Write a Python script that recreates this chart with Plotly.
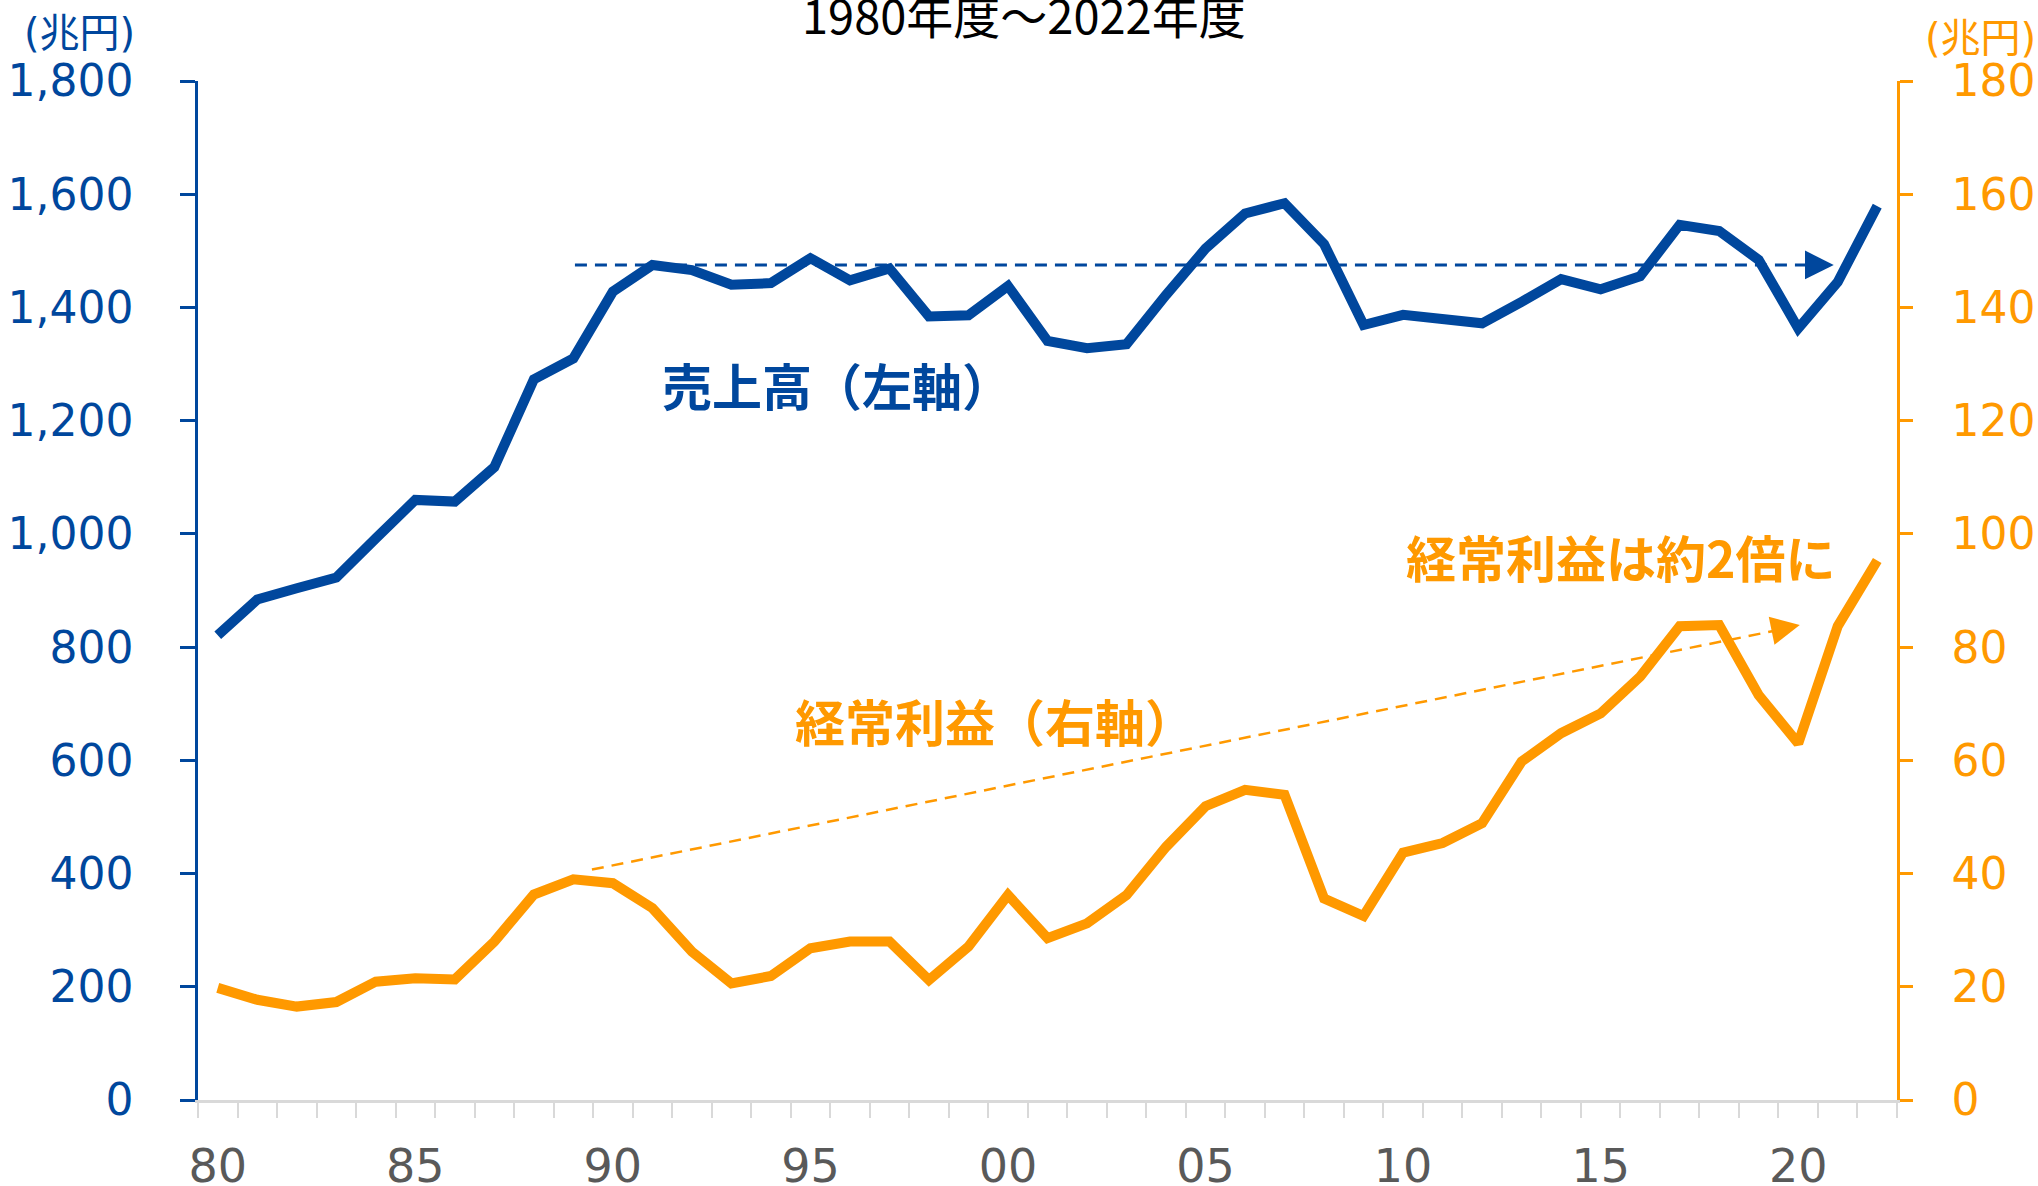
import plotly.graph_objects as go

# ---- data ----
years = [1980, 1981, 1982, 1983, 1984, 1985, 1986, 1987, 1988, 1989,
         1990, 1991, 1992, 1993, 1994, 1995, 1996, 1997, 1998, 1999,
         2000, 2001, 2002, 2003, 2004, 2005, 2006, 2007, 2008, 2009,
         2010, 2011, 2012, 2013, 2014, 2015, 2016, 2017, 2018, 2019,
         2020, 2021, 2022]
sales = [821, 884, 904, 923, 992, 1060, 1057, 1118, 1273, 1310,
         1428, 1475, 1466, 1440, 1443, 1487, 1448, 1469, 1384, 1386,
         1438, 1341, 1328, 1335, 1422, 1504, 1566, 1584, 1512, 1369,
         1387, 1381, 1372, 1410, 1450, 1432, 1455, 1546, 1535, 1484,
         1363, 1445, 1579]
profit = [19.8, 17.7, 16.5, 17.3, 20.9, 21.5, 21.3, 28.0, 36.3, 39.0,
          38.3, 33.9, 26.2, 20.6, 21.9, 26.8, 28.0, 28.0, 21.2, 27.1,
          36.2, 28.6, 31.2, 36.2, 44.7, 51.9, 54.8, 53.9, 35.6, 32.5,
          43.7, 45.4, 48.9, 59.8, 64.8, 68.3, 74.8, 83.7, 83.9, 71.5,
          63.0, 83.7, 95.3]
xtick_vals = [1980, 1985, 1990, 1995, 2000, 2005, 2010, 2015, 2020]
xtick_text = ["80", "85", "90", "95", "00", "05", "10", "15", "20"]
left_ticks = [0, 200, 400, 600, 800, 1000, 1200, 1400, 1600, 1800]
right_ticks = [0, 20, 40, 60, 80, 100, 120, 140, 160, 180]

# trend arrows (year position, value)
sales_arrow = dict(x0=1989.04, x1=2020.2, y=1475, tip=2020.9)
profit_arrow = dict(x0=1989.47, y0=40.7, x1=2019.34, y1=82.8, tipx=2020.04, tipy=83.9)

BLUE = "#00479D"
ORANGE = "#FF9900"
GRAY = "#595959"
CJK = "Noto Sans CJK JP"
NUM = "DejaVu Sans"

fig = go.Figure()
fig.add_trace(go.Scatter(x=years, y=sales, mode="lines",
                         line=dict(color=BLUE, width=10), yaxis="y",
                         showlegend=False, hoverinfo="skip"))
fig.add_trace(go.Scatter(x=years, y=profit, mode="lines",
                         line=dict(color=ORANGE, width=10), yaxis="y2",
                         showlegend=False, hoverinfo="skip"))

# dashed trend lines
fig.add_shape(type="line", xref="x", yref="y",
              x0=sales_arrow["x0"], x1=sales_arrow["x1"],
              y0=sales_arrow["y"], y1=sales_arrow["y"],
              line=dict(color=BLUE, width=3, dash="12px,8px"))
fig.add_shape(type="line", xref="x", yref="y2",
              x0=profit_arrow["x0"], y0=profit_arrow["y0"],
              x1=profit_arrow["x1"], y1=profit_arrow["y1"],
              line=dict(color=ORANGE, width=2.5, dash="12px,8px"))

# arrow heads
fig.add_annotation(x=sales_arrow["tip"], y=sales_arrow["y"], xref="x", yref="y",
                   text="", showarrow=True, arrowhead=2, arrowsize=2.3,
                   arrowwidth=2.5, arrowcolor=BLUE, ax=-22, ay=0, standoff=0)
fig.add_annotation(x=profit_arrow["tipx"], y=profit_arrow["tipy"], xref="x", yref="y2",
                   text="", showarrow=True, arrowhead=2, arrowsize=2.3,
                   arrowwidth=2.5, arrowcolor=ORANGE, ax=-21.6, ay=4.4, standoff=0)

W, H = 2038, 1186
L, R, T, B = 198, 141, 81, 86
PW, PH = W - L - R, H - T - B


def px(x):
    return (x - L) / PW


def py(y):
    return (H - B - y) / PH


def label(xp, yp, text, font):
    fig.add_annotation(x=px(xp), y=py(yp), xref="paper", yref="paper",
                       xanchor="center", yanchor="middle",
                       text=text, showarrow=False, font=font)


label(837, 384, "売上高（左軸）", dict(family=CJK, size=50, color=BLUE, weight="bold"))
label(995, 720, "経常利益（右軸）", dict(family=CJK, size=50, color=ORANGE, weight="bold"))
label(1621, 556, "経常利益は約2倍に", dict(family=CJK, size=50, color=ORANGE, weight="bold"))
label(1024, 14, "1980年度～2022年度", dict(family=CJK, size=47, color="black"))
label(79, 33, "(兆円)", dict(family=NUM + ", " + CJK, size=40, color=BLUE))
label(1980, 38, "(兆円)", dict(family=NUM + ", " + CJK, size=40, color=ORANGE))

fig.update_layout(
    width=W, height=H,
    margin=dict(l=L, r=R, t=T, b=B, autoexpand=False),
    paper_bgcolor="white", plot_bgcolor="white",
    showlegend=False,
    xaxis=dict(range=[1979.5, 2022.5], tickmode="array",
               tickvals=xtick_vals, ticktext=xtick_text, automargin=False,
               ticks="", showgrid=False, zeroline=False,
               showline=True, linecolor="#D9D9D9", linewidth=3,
               tickfont=dict(family=NUM, size=46, color=GRAY),
               ticklabelstandoff=24,
               minor=dict(ticks="outside", ticklen=15, tickwidth=1.5,
                          tickcolor="#D9D9D9", tickmode="linear",
                          tick0=1979.5, dtick=1, showgrid=False)),
    yaxis=dict(range=[0, 1800], tickmode="array", tickvals=left_ticks,
               tickformat=",d", showgrid=False, zeroline=False, automargin=False,
               showline=True, linecolor=BLUE, linewidth=2.5,
               ticks="outside", ticklen=15, tickwidth=2.5, tickcolor=BLUE,
               tickfont=dict(family=NUM, size=44, color=BLUE),
               ticklabelstandoff=38),
    yaxis2=dict(range=[0, 180], tickmode="array", tickvals=right_ticks,
                overlaying="y", side="right", showgrid=False, zeroline=False,
                automargin=False,
                showline=True, linecolor=ORANGE, linewidth=2.5,
                ticks="outside", ticklen=13, tickwidth=2.5, tickcolor=ORANGE,
                tickfont=dict(family=NUM, size=44, color=ORANGE),
                ticklabelstandoff=30),
)

fig.write_html("out.html", config={"displayModeBar": False},
               post_script="document.body.style.margin='0';document.body.style.overflow='hidden';")
